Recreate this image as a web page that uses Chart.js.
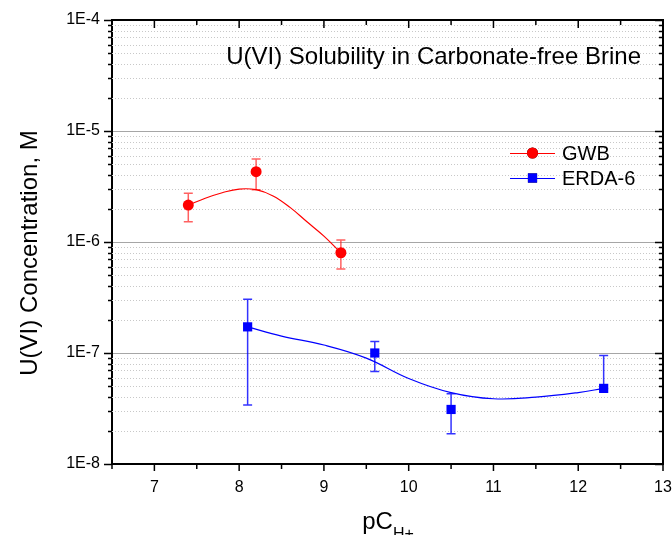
<!DOCTYPE html>
<html>
<head>
<meta charset="utf-8">
<script src="https://cdn.jsdelivr.net/npm/chart.js@4.4.0/dist/chart.umd.min.js"></script>
<style>
  html, body { margin: 0; padding: 0; background: #fff; }
</style>
</head>
<body>
<canvas id="myChart" width="672" height="535"></canvas>
<script>
// measured solubility with error bar limits
var gwbPh = [7.4, 8.2, 9.2];
var gwbConc = [2.15e-6, 4.3e-6, 8.0e-7];
var gwbHi = [2.75e-6, 5.6e-6, 1.04e-6];
var gwbLo = [1.52e-6, 2.96e-6, 5.7e-7];

var erdaPh = [8.1, 9.6, 10.5, 12.3];
var erdaConc = [1.72e-7, 1.0e-7, 3.1e-8, 4.8e-8];
var erdaHi = [3.05e-7, 1.27e-7, 4.3e-8, 9.5e-8];
var erdaLo = [3.4e-8, 6.8e-8, 1.87e-8, 4.8e-8];

// trend curves
var gwbFitPh = [7.4, 7.6, 7.8, 8.0, 8.2, 8.4, 8.6, 8.8, 9.0, 9.2];
var gwbFitConc = [2.15e-6, 2.48e-6, 2.78e-6, 3.0e-6, 2.96e-6, 2.6e-6, 2.05e-6, 1.52e-6, 1.13e-6, 8.0e-7];
var erdaFitPh = [8.1, 8.5, 9.0, 9.5, 10.0, 10.5, 11.0, 11.5, 12.0, 12.3];
var erdaFitConc = [1.72e-7, 1.42e-7, 1.18e-7, 9.0e-8, 5.9e-8, 4.4e-8, 3.87e-8, 4.0e-8, 4.4e-8, 4.8e-8];

var xTicks = [7, 8, 9, 10, 11, 12, 13];
var yTickLabels = ['1E-8', '1E-7', '1E-6', '1E-5', '1E-4'];

var FONT = "'Liberation Sans', Arial, sans-serif";

function pairs(xs, ys) {
    var out = [];
    for (var i in xs) {
        out.push({x: xs[i], y: ys[i]});
    }
    return out;
}

function isDecade(v) {
    var e = Math.log10(v);
    return Math.abs(e - Math.round(e)) < 1e-6;
}

var errorBars = [
    {xs: gwbPh, lo: gwbLo, hi: gwbHi, color: 'rgba(255,30,30,0.7)'},
    {xs: erdaPh, lo: erdaLo, hi: erdaHi, color: 'rgba(0,0,255,0.8)'}
];

// dotted minor grid, error bars under the markers
var underlay = {
    id: 'underlay',
    beforeDatasetsDraw: function(chart) {
        var ctx = chart.ctx, a = chart.chartArea;
        var xs = chart.scales.x, ys = chart.scales.y;
        ctx.save();
        ctx.strokeStyle = '#c8c8c8';
        ctx.lineWidth = 1;
        ctx.setLineDash([1, 2]);
        ys.ticks.forEach(function(t) {
            if (isDecade(t.value)) return;
            var y = Math.round(ys.getPixelForValue(t.value)) + 0.5;
            ctx.beginPath();
            ctx.moveTo(a.left, y);
            ctx.lineTo(a.right, y);
            ctx.stroke();
        });
        ctx.setLineDash([]);
        ctx.lineWidth = 1.5;
        errorBars.forEach(function(s) {
            ctx.strokeStyle = s.color;
            for (var i in s.xs) {
                var px = xs.getPixelForValue(s.xs[i]);
                var top = ys.getPixelForValue(s.hi[i]);
                var bot = ys.getPixelForValue(s.lo[i]);
                ctx.beginPath();
                ctx.moveTo(px, top);
                ctx.lineTo(px, bot);
                ctx.moveTo(px - 4.5, top);
                ctx.lineTo(px + 4.5, top);
                if (s.lo[i] < s.hi[i] && bot - top > 0) {
                    ctx.moveTo(px - 4.5, bot);
                    ctx.lineTo(px + 4.5, bot);
                }
                ctx.stroke();
            }
        });
        ctx.restore();
    }
};

// frame, tick marks, titles and legend
var overlay = {
    id: 'overlay',
    afterDraw: function(chart) {
        var ctx = chart.ctx, a = chart.chartArea;
        var xs = chart.scales.x, ys = chart.scales.y;
        ctx.save();
        ctx.strokeStyle = '#000';
        ctx.lineWidth = 2;
        ctx.beginPath();
        ctx.moveTo(a.left, a.top);
        ctx.lineTo(a.right, a.top);
        ctx.lineTo(a.right, a.bottom);
        ctx.stroke();

        ctx.lineWidth = 1.5;
        ctx.beginPath();
        xs.ticks.forEach(function(t, i) {
            var px = xs.getPixelForValue(t.value);
            ctx.moveTo(px, a.bottom); ctx.lineTo(px, a.bottom + 7);
            ctx.moveTo(px, a.top); ctx.lineTo(px, a.top + 8);
            var half = xs.getPixelForValue(t.value - 0.5);
            ctx.moveTo(half, a.bottom); ctx.lineTo(half, a.bottom + 5);
            ctx.moveTo(half, a.top); ctx.lineTo(half, a.top + 5);
        });
        ys.ticks.forEach(function(t) {
            var py = Math.round(ys.getPixelForValue(t.value)) + 0.5;
            var len = isDecade(t.value) ? 8 : 4;
            ctx.moveTo(a.left - len, py); ctx.lineTo(a.left, py);
            ctx.moveTo(a.right - len, py); ctx.lineTo(a.right, py);
        });
        ctx.stroke();

        ctx.fillStyle = '#000';
        ctx.font = '24px ' + FONT;
        ctx.textAlign = 'right';
        ctx.textBaseline = 'middle';
        ctx.fillText('U(VI) Solubility in Carbonate-free Brine', 641, 57);

        // y axis title
        ctx.save();
        ctx.translate(30, 253);
        ctx.rotate(-Math.PI / 2);
        ctx.textAlign = 'center';
        ctx.fillText('U(VI) Concentration, M', 0, 0);
        ctx.restore();

        // x axis title with subscript
        ctx.textBaseline = 'alphabetic';
        ctx.textAlign = 'left';
        ctx.font = '24px ' + FONT;
        var w1 = ctx.measureText('pC').width;
        ctx.font = '16px ' + FONT;
        var w2 = ctx.measureText('H+').width;
        var x0 = 388 - (w1 + w2) / 2;
        ctx.font = '24px ' + FONT;
        ctx.fillText('pC', x0, 529);
        ctx.font = '16px ' + FONT;
        ctx.fillText('H+', x0 + w1, 539);

        // legend
        var rows = chart.data.datasets.filter(function(d) { return d.legendRow !== undefined; });
        ctx.font = '20px ' + FONT;
        ctx.textBaseline = 'middle';
        rows.forEach(function(d) {
            var y = 153 + d.legendRow * 25;
            ctx.strokeStyle = d.borderColor;
            ctx.lineWidth = 1;
            ctx.beginPath();
            ctx.moveTo(510, y + 0.5);
            ctx.lineTo(555, y + 0.5);
            ctx.stroke();
            Chart.helpers.drawPoint(ctx, {pointStyle: d.pointStyle, radius: d.pointRadius, rotation: 0}, 532.5, y);
            ctx.fillStyle = d.backgroundColor;
            ctx.fill();
            ctx.fillStyle = '#000';
            ctx.fillText(d.label, 562, y + 1);
        });
        ctx.restore();
    }
};

var chartData = {
    datasets: [
        {
            label: 'GWB',
            legendRow: 0,
            data: pairs(gwbPh, gwbConc),
            pointStyle: 'circle',
            pointRadius: 5.5,
            backgroundColor: '#ff0000',
            borderColor: '#ff0000',
            borderWidth: 0,
            showLine: false,
            order: 0
        },
        {
            label: 'ERDA-6',
            legendRow: 1,
            data: pairs(erdaPh, erdaConc),
            pointStyle: 'rect',
            pointRadius: 6.5,
            backgroundColor: '#0000ff',
            borderColor: '#0000ff',
            borderWidth: 0,
            showLine: false,
            order: 0
        },
        {
            label: 'GWB fit',
            data: pairs(gwbFitPh, gwbFitConc),
            showLine: true,
            pointRadius: 0,
            borderColor: '#ff0000',
            borderWidth: 1.2,
            tension: 0.4,
            order: 1
        },
        {
            label: 'ERDA-6 fit',
            data: pairs(erdaFitPh, erdaFitConc),
            showLine: true,
            pointRadius: 0,
            borderColor: '#0000ff',
            borderWidth: 1.2,
            tension: 0.4,
            order: 1
        }
    ]
};

var myChart = new Chart(document.getElementById('myChart'), {
    type: 'scatter',
    data: chartData,
    plugins: [underlay, overlay],
    options: {
        responsive: false,
        animation: false,
        layout: { padding: { top: 20, right: 9, left: 0, bottom: 0 } },
        plugins: {
            legend: { display: false },
            tooltip: { enabled: false }
        },
        scales: {
            x: {
                type: 'linear',
                min: 6.5,
                max: 13,
                afterBuildTicks: function(scale) {
                    scale.ticks = xTicks.map(function(v) { return {value: v}; });
                },
                afterFit: function(scale) {
                    scale.height = 71;
                    scale.paddingLeft = 0;
                    scale.paddingRight = 0;
                },
                grid: { display: false, drawTicks: false },
                border: { display: true, color: '#000', width: 2 },
                ticks: {
                    padding: 14,
                    color: '#000',
                    font: { family: FONT, size: 16 },
                    maxRotation: 0,
                    callback: function(v) { return String(v); }
                }
            },
            y: {
                type: 'logarithmic',
                min: 1e-8,
                max: 1e-4,
                afterBuildTicks: function(scale) {
                    var t = [];
                    for (var e = 0; e < yTickLabels.length; e++) {
                        var base = Number(yTickLabels[e].replace('1E', '1e'));
                        var steps = e < yTickLabels.length - 1 ? 9 : 1;
                        for (var m = 1; m <= steps; m++) t.push({value: m * base});
                    }
                    scale.ticks = t;
                },
                afterFit: function(scale) {
                    scale.width = 112;
                    scale.paddingTop = 0;
                    scale.paddingBottom = 0;
                },
                grid: {
                    drawTicks: false,
                    lineWidth: 1,
                    color: function(c) {
                        return c.tick && isDecade(c.tick.value) ? '#a6a6a6' : 'rgba(0,0,0,0)';
                    }
                },
                border: { display: true, color: '#000', width: 2 },
                ticks: {
                    padding: 12,
                    color: '#000',
                    font: { family: FONT, size: 16 },
                    autoSkip: false,
                    callback: function(v) {
                        if (!isDecade(v)) return '';
                        return yTickLabels[Math.round(Math.log10(v)) + 8];
                    }
                }
            }
        }
    }
});
</script>
</body>
</html>
